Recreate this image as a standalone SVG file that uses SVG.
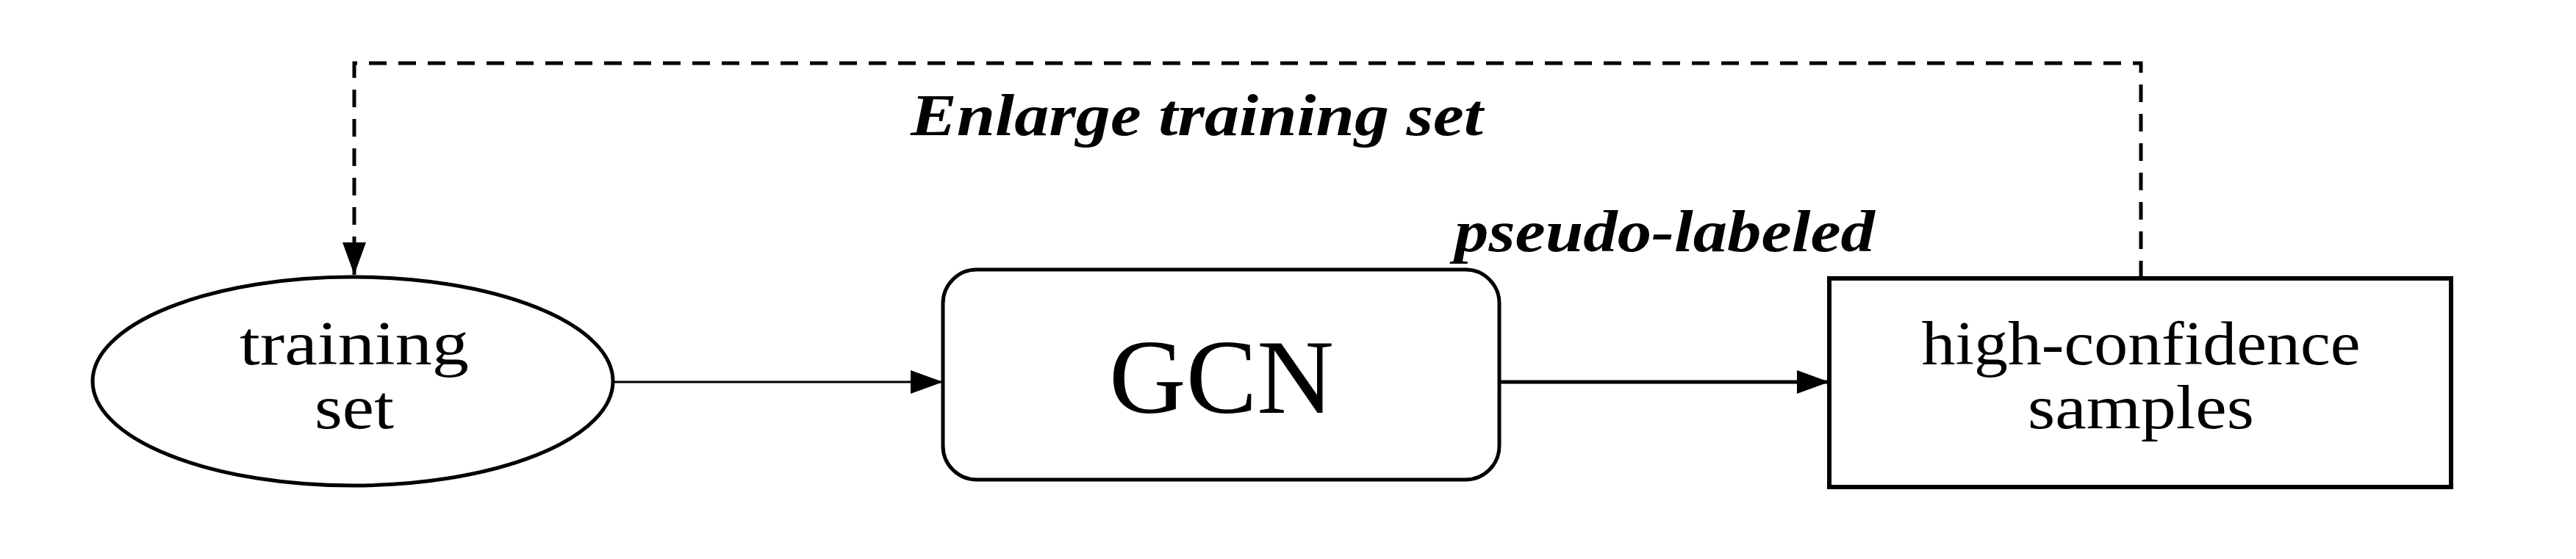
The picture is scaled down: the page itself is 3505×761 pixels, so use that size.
<svg xmlns="http://www.w3.org/2000/svg" width="3505" height="761" viewBox="0 0 3505 761">
<style>
.t{font-family:"Liberation Serif","Times New Roman",serif;fill:#000}
.l{font-weight:bold;font-style:italic;font-size:80px}
.n{fill:#fff;stroke:#000}
</style>
<defs>
<marker id="ah" markerUnits="userSpaceOnUse" markerWidth="44" markerHeight="32" refX="44" refY="16" orient="auto"><path d="M0,0L44,16L0,32Z" fill="#000"/></marker>
</defs>
<rect width="3505" height="761" fill="#fff"/>
<g id="connectors" fill="none" stroke="#000">
<path d="M2913,379V86H482V374" stroke-width="5" stroke-dasharray="24,16" marker-end="url(#ah)"/>
<path d="M835,520H1283" stroke-width="3" marker-end="url(#ah)"/>
<path d="M2040,520H2489" stroke-width="5" marker-end="url(#ah)"/>
</g>
<g id="training-set">
<ellipse class="n" cx="480" cy="519" rx="354" ry="142" stroke-width="5"/>
<text class="t" x="482" y="496" font-size="84" text-anchor="middle" textLength="312" lengthAdjust="spacingAndGlyphs">training</text>
<text class="t" x="482" y="583" font-size="84" text-anchor="middle" textLength="108" lengthAdjust="spacingAndGlyphs">set</text>
</g>
<g id="gcn">
<rect class="n" x="1283" y="367" width="757" height="286" rx="46" stroke-width="5"/>
<text class="t" x="1662" y="562" font-size="145" text-anchor="middle">GCN</text>
</g>
<g id="samples">
<rect class="n" x="2489" y="379" width="846" height="284" stroke-width="6"/>
<text class="t" x="2913" y="496" font-size="84" text-anchor="middle" textLength="597" lengthAdjust="spacingAndGlyphs">high-confidence</text>
<text class="t" x="2913" y="583" font-size="84" text-anchor="middle" textLength="308" lengthAdjust="spacingAndGlyphs">samples</text>
</g>
<g id="labels">
<text class="t l" x="1239" y="184" textLength="779" lengthAdjust="spacingAndGlyphs">Enlarge training set</text>
<text class="t l" x="1979" y="342" textLength="572" lengthAdjust="spacingAndGlyphs">pseudo-labeled</text>
</g>
</svg>
